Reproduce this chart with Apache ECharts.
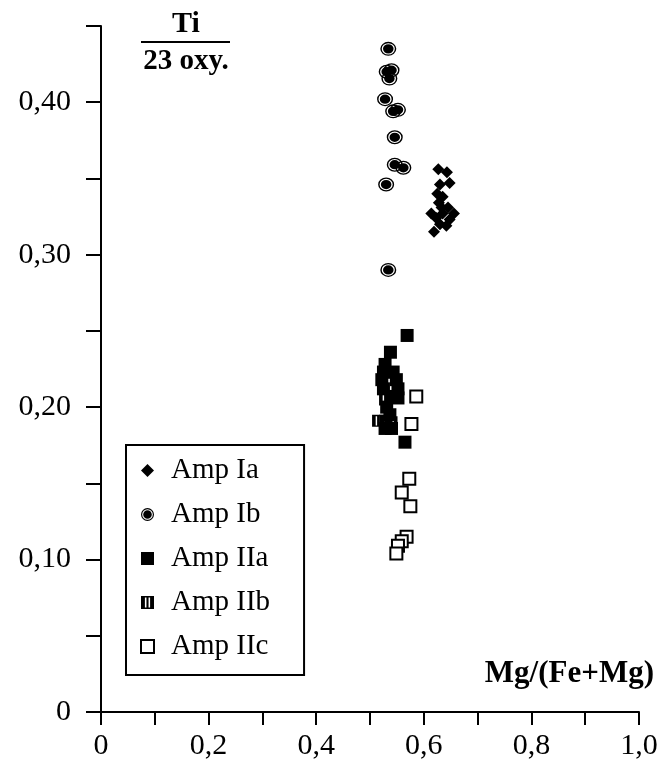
<!DOCTYPE html>
<html>
<head>
<meta charset="utf-8">
<script src="https://cdn.jsdelivr.net/npm/echarts@6/dist/echarts.min.js"></script>
<style>
html,body{margin:0;padding:0;background:#fff;}
#c{width:663px;height:767px;}
</style>
</head>
<body>
<div id="c"></div>
<script>
// x: Mg/(Fe+Mg), y: Ti (23 oxy.)
const ampIa = [
  [0.643,0.354],[0.627,0.356],[0.648,0.347],[0.630,0.346],[0.625,0.340],
  [0.635,0.338],[0.628,0.334],[0.633,0.331],[0.645,0.331],[0.614,0.327],
  [0.635,0.327],[0.656,0.327],[0.623,0.324],[0.648,0.323],[0.630,0.320],
  [0.619,0.315],[0.642,0.319]
];
const ampIb = [
  [0.534,0.435],[0.531,0.420],[0.540,0.421],[0.536,0.4155],[0.528,0.402],
  [0.543,0.394],[0.552,0.395],[0.546,0.377],[0.546,0.359],[0.562,0.357],
  [0.530,0.346],[0.534,0.290]
];
const ampIIa = [
  [0.569,0.247],[0.538,0.236],[0.528,0.228],[0.525,0.223],[0.543,0.223],
  [0.522,0.218],[0.549,0.218],[0.525,0.212],[0.552,0.212],[0.540,0.207],
  [0.552,0.206],[0.531,0.200],[0.537,0.195],[0.528,0.186],[0.540,0.186],
  [0.565,0.177]
];
const ampIIb = [
  [0.528,0.205],[0.515,0.191],[0.528,0.191],[0.540,0.190]
];
const ampIIc = [
  [0.586,0.207],[0.577,0.189],[0.573,0.153],[0.559,0.144],[0.575,0.135],
  [0.568,0.115],[0.559,0.112],[0.552,0.109],[0.549,0.104]
];
const seriesNames = ['Amp Ia','Amp Ib','Amp IIa','Amp IIb','Amp IIc'];
const yTickLabels = {0:'0',10:'0,10',20:'0,20',30:'0,30',40:'0,40'};
const xTickLabels = {0:'0',2:'0,2',4:'0,4',6:'0,6',8:'0,8',10:'1,0'};

const ringPath = 'path://M50,0 A50,50 0 1,1 50,100 A50,50 0 1,1 50,0 Z ' +
  'M50,9 A41,41 0 1,0 50,91 A41,41 0 1,0 50,9 Z ' +
  'M50,17 A33,33 0 1,1 50,83 A33,33 0 1,1 50,17 Z';
const stripePath = 'path://M0,0 H100 V100 H0 Z M30,12 V88 H42 V12 Z M58,12 V88 H70 V12 Z';

const serif = 'Liberation Serif';
const chart = echarts.init(document.getElementById('c'));
chart.setOption({
  backgroundColor: '#fff',
  animation: false,
  grid: {left: 101, right: 24, top: 26, bottom: 55, containLabel: false},
  xAxis: {
    type: 'value', min: 0, max: 1, interval: 0.1,
    splitLine: {show: false},
    axisLine: {show: true, onZero: false, lineStyle: {color: '#000', width: 2}},
    axisTick: {show: true, inside: false, length: 13, lineStyle: {color: '#000', width: 2}},
    axisLabel: {
      color: '#000', fontFamily: serif, fontSize: 30, margin: 19,
      formatter: function (v) { const k = Math.round(v * 10); return xTickLabels[k] !== undefined ? xTickLabels[k] : ''; }
    }
  },
  yAxis: {
    type: 'value', min: 0, max: 0.45, interval: 0.05,
    splitLine: {show: false},
    axisLine: {show: true, onZero: false, lineStyle: {color: '#000', width: 2}},
    axisTick: {show: true, inside: false, length: 15, lineStyle: {color: '#000', width: 2}},
    axisLabel: {
      color: '#000', fontFamily: serif, fontSize: 30, margin: 30,
      formatter: function (v) { const k = Math.round(v * 100); return yTickLabels[k] !== undefined ? yTickLabels[k] : ''; }
    }
  },
  legend: {
    show: true, orient: 'vertical', left: 126, top: 445, width: 176,
    data: seriesNames,
    borderColor: '#000', borderWidth: 2,
    padding: [11, 34, 14, 14],
    itemGap: 15, itemWidth: 13, itemHeight: 13,
    textStyle: {color: '#000', fontFamily: serif, fontSize: 29, padding: [0, 0, 0, 12]}
  },
  graphic: [
    {type: 'text', x: 186, y: 9, style: {text: 'Ti', align: 'center', verticalAlign: 'top', fontFamily: serif, fontWeight: 'bold', fontSize: 30, fill: '#000'}},
    {type: 'line', shape: {x1: 141, y1: 42, x2: 230, y2: 42}, style: {stroke: '#000', lineWidth: 2}},
    {type: 'text', x: 186, y: 47, style: {text: '23 oxy.', align: 'center', verticalAlign: 'top', fontFamily: serif, fontWeight: 'bold', fontSize: 29, fill: '#000'}},
    {type: 'text', x: 654, y: 658, style: {text: 'Mg/(Fe+Mg)', align: 'right', verticalAlign: 'top', fontFamily: serif, fontWeight: 'bold', fontSize: 31, fill: '#000'}}
  ],
  series: [
    {name: seriesNames[0], type: 'scatter', data: ampIa, symbol: 'diamond', symbolSize: 12,
     itemStyle: {color: '#000', opacity: 1}},
    {name: seriesNames[1], type: 'scatter', data: ampIb, symbol: ringPath, symbolSize: [16, 14],
     itemStyle: {color: '#000', opacity: 1}},
    {name: seriesNames[2], type: 'scatter', data: ampIIa, symbol: 'rect', symbolSize: 13,
     itemStyle: {color: '#000', opacity: 1}},
    {name: seriesNames[3], type: 'scatter', data: ampIIb, symbol: stripePath, symbolSize: 12,
     itemStyle: {color: '#000', opacity: 1}},
    {name: seriesNames[4], type: 'scatter', data: ampIIc, symbol: 'rect', symbolSize: 12,
     itemStyle: {color: '#fff', borderColor: '#000', borderWidth: 2, opacity: 1}}
  ]
});
</script>
</body>
</html>
